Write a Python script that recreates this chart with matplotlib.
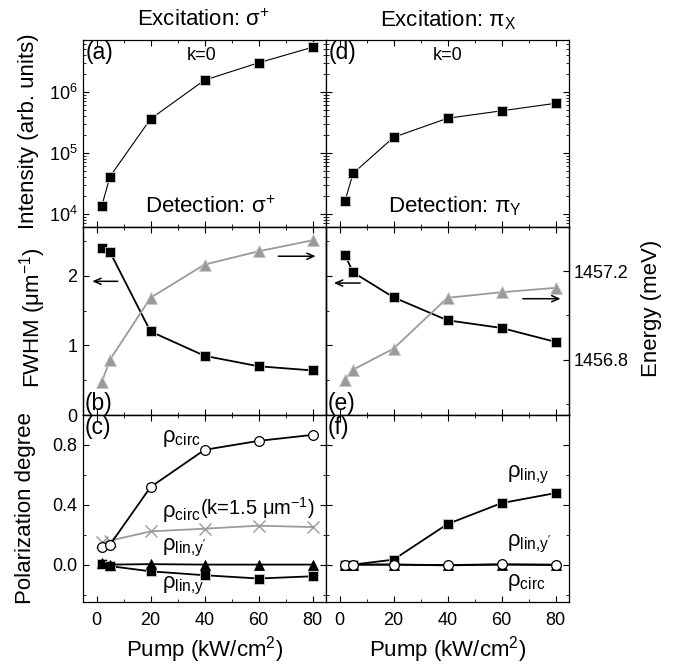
import numpy as np
import matplotlib
matplotlib.use('Agg')
import matplotlib.pyplot as plt
from matplotlib.ticker import MultipleLocator, LogLocator, NullFormatter, FormatStrFormatter

#===========================================================================
# data
#===========================================================================

pump = [2, 5, 20, 40, 60, 80]

# (a) and (d): intensity at k=0
intensityA = [1.37e4, 4.1e4, 3.6e5, 1.56e6, 3.0e6, 5.4e6]
intensityD = [1.6e4, 4.6e4, 1.8e5, 3.7e5, 4.9e5, 6.5e5]

# (b) and (e): FWHM (left axis) and energy (right axis)
fwhmB = [2.40, 2.34, 1.20, 0.85, 0.70, 0.64]
energyB = [1456.70, 1456.80, 1457.08, 1457.23, 1457.29, 1457.34]
fwhmE = [2.30, 2.05, 1.69, 1.36, 1.25, 1.05]
energyE = [1456.71, 1456.755, 1456.85, 1457.08, 1457.105, 1457.125]

# (c): sigma+ excitation polarization degrees
circC = [0.115, 0.133, 0.518, 0.767, 0.827, 0.867]
circKC = [0.149, 0.160, 0.222, 0.240, 0.260, 0.251]
linYpC = [0.010, 0.000, 0.003, 0.000, 0.000, 0.000]
linYC = [0.005, -0.010, -0.045, -0.071, -0.093, -0.078]

# (f): pi_x excitation polarization degrees
linYF = [0.000, 0.000, 0.033, 0.271, 0.411, 0.478]
linYpF = [0.000, 0.000, 0.000, -0.005, 0.000, -0.003]
circF = [0.000, 0.000, 0.000, -0.003, 0.002, 0.000]

#===========================================================================
# style
#===========================================================================

plt.rcParams['font.family'] = ['Liberation Sans', 'DejaVu Sans']
plt.rcParams['mathtext.fontset'] = 'custom'
plt.rcParams['mathtext.rm'] = 'Liberation Sans'
plt.rcParams['mathtext.it'] = 'Liberation Sans:italic'
plt.rcParams['mathtext.bf'] = 'Liberation Sans:bold'
plt.rcParams['mathtext.default'] = 'regular'
plt.rcParams['xtick.direction'] = 'in'
plt.rcParams['ytick.direction'] = 'in'
plt.rcParams['xtick.top'] = True
plt.rcParams['ytick.right'] = True
plt.rcParams['axes.linewidth'] = 0.9
plt.rcParams['xtick.major.size'] = 4
plt.rcParams['ytick.major.size'] = 4
plt.rcParams['xtick.minor.size'] = 2.2
plt.rcParams['ytick.minor.size'] = 2.2
plt.rcParams['xtick.labelsize'] = 13
plt.rcParams['ytick.labelsize'] = 13

W = 674.0
H = 664.0

def pxBox(left, top, right, bottom):
    return [left / W, 1 - bottom / H, (right - left) / W, (bottom - top) / H]

grey = '#9a9a9a'
sqStyle = dict(marker='s', ms=7.5, mfc='black', mec='#d0d0d0', mew=0.6, color='black')
triGrey = dict(marker='^', ms=8, mfc=grey, mec='#c8c8c8', mew=0.6, color=grey)

fig = plt.figure(figsize=(W / 100, H / 100), dpi=100)

xl, xm, xr = 83, 326, 569
yt, y1, y2, yb = 40, 227, 415, 602

axA = fig.add_axes(pxBox(xl, yt, xm, y1))
axD = fig.add_axes(pxBox(xm, yt, xr, y1))
axB = fig.add_axes(pxBox(xl, y1, xm, y2))
axE = fig.add_axes(pxBox(xm, y1, xr, y2))
axC = fig.add_axes(pxBox(xl, y2, xm, yb))
axF = fig.add_axes(pxBox(xm, y2, xr, yb))

for ax in [axA, axD, axB, axE, axC, axF]:
    ax.set_xlim(-5, 85)
    ax.xaxis.set_major_locator(MultipleLocator(20))
    ax.xaxis.set_minor_locator(MultipleLocator(10))
    ax.tick_params(axis='x', which='both', pad=7)
    ax.tick_params(axis='y', which='both', pad=4)
    ax.tick_params(which='both', top=True, right=True)

for ax in [axA, axD, axB, axE]:
    ax.tick_params(axis='x', labelbottom=False)
for ax in [axD, axE, axF]:
    ax.tick_params(axis='y', labelleft=False)

# top row: intensity

for ax, vals in [(axA, intensityA), (axD, intensityD)]:
    ax.set_yscale('log')
    ax.set_ylim(6.1e3, 7.1e6)
    ax.yaxis.set_major_locator(LogLocator(base=10, numticks=10))
    ax.yaxis.set_minor_locator(LogLocator(base=10, subs=np.arange(2, 10), numticks=10))
    ax.yaxis.set_minor_formatter(NullFormatter())
    ax.plot(pump, vals, lw=0.8, **sqStyle)
axD.tick_params(axis='y', which='both', labelleft=False)

letterSize = 16.5
axA.text(0.01, 0.995, '(a)', transform=axA.transAxes, fontsize=letterSize, va='top', ha='left')
axD.text(0.01, 0.995, '(d)', transform=axD.transAxes, fontsize=letterSize, va='top', ha='left')
axA.text(0.49, 0.895, 'k=0', transform=axA.transAxes, fontsize=13, ha='center', va='baseline')
axD.text(0.50, 0.895, 'k=0', transform=axD.transAxes, fontsize=13, ha='center', va='baseline')
axA.text(0.525, 0.077, r'Detection: $\sigma^{+}$', transform=axA.transAxes, fontsize=16,
         ha='center', va='baseline')
axD.text(0.53, 0.077, r'Detection: $\pi_{Y}$', transform=axD.transAxes, fontsize=16,
         ha='center', va='baseline')

# middle row: FWHM and energy

for ax, fw in [(axB, fwhmB), (axE, fwhmE)]:
    ax.set_ylim(0, 2.7)
    ax.yaxis.set_major_locator(MultipleLocator(1))
    ax.yaxis.set_minor_locator(MultipleLocator(0.5))
    ax.plot(pump, fw, lw=1.3, zorder=3, **sqStyle)

twinB = axB.twinx()
twinE = axE.twinx()
for tw, en in [(twinB, energyB), (twinE, energyE)]:
    tw.set_ylim(1456.55, 1457.40)
    tw.yaxis.set_major_locator(MultipleLocator(0.4))
    tw.yaxis.set_minor_locator(MultipleLocator(0.2))
    tw.tick_params(axis='y', which='both', direction='in', pad=3)
    tw.plot(pump, en, lw=1.3, zorder=2, **triGrey)
twinB.tick_params(axis='y', which='both', labelright=False, right=False)
twinE.yaxis.set_major_formatter(FormatStrFormatter('%.1f'))

arrowProps = dict(arrowstyle='->,head_length=0.5,head_width=0.22', lw=1.1, color='black')
axB.annotate('', xy=(-2.6, 1.92), xytext=(8.9, 1.92), arrowprops=arrowProps)
axB.annotate('', xy=(82.2, 2.28), xytext=(66.3, 2.28), arrowprops=arrowProps)
axE.annotate('', xy=(-3.1, 1.895), xytext=(8.7, 1.895), arrowprops=arrowProps)
axE.annotate('', xy=(82.9, 1.67), xytext=(66.9, 1.67), arrowprops=arrowProps)

axB.text(0.008, 0.0, '(b)', transform=axB.transAxes, fontsize=letterSize, va='bottom', ha='left')
axE.text(0.008, 0.0, '(e)', transform=axE.transAxes, fontsize=letterSize, va='bottom', ha='left')

# bottom row: polarization degree

for ax in [axC, axF]:
    ax.set_ylim(-0.25, 1.0)
    ax.yaxis.set_major_locator(MultipleLocator(0.4))
    ax.yaxis.set_minor_locator(MultipleLocator(0.2))
    ax.yaxis.set_major_formatter(FormatStrFormatter('%.1f'))
    ax.set_xlabel(r'Pump (kW/cm$^{2}$)', fontsize=16, labelpad=4)

circStyle = dict(marker='o', ms=7, mfc='white', mec='black', mew=0.9, color='black')
triBlack = dict(marker='^', ms=7.5, mfc='black', mec='black', mew=0.6, color='black')

axC.plot(pump, linYC, lw=1.3, zorder=3, **sqStyle)
axC.plot(pump, linYpC, lw=1.3, zorder=4, **triBlack)
axC.plot(pump, circKC, lw=1.3, zorder=2, marker='x', ms=9, mew=1.0, color=grey)
axC.plot(pump, circC, lw=1.3, zorder=5, **circStyle)

axF.plot(pump, linYF, lw=1.3, zorder=3, **sqStyle)
axF.plot(pump, linYpF, lw=1.3, zorder=4, **triBlack)
axF.plot(pump, circF, lw=1.3, zorder=5, **circStyle)

axC.text(0.008, 0.995, '(c)', transform=axC.transAxes, fontsize=letterSize, va='top', ha='left')
axF.text(0.008, 0.995, '(f)', transform=axF.transAxes, fontsize=letterSize, va='top', ha='left')

labelSize = 16
axC.text(24.3, 0.82, r'$\rho_{circ}$', fontsize=labelSize, va='baseline')
axC.text(24.3, 0.318, r'$\rho_{circ}$', fontsize=labelSize, va='baseline')
axC.text(38.5, 0.33, r'(k=1.5 $\mu$m$^{-1}$)', fontsize=14.5, va='baseline')
axC.text(24.3, 0.095, r"$\rho_{lin{,}y'}$", fontsize=labelSize, va='baseline')
axC.text(24.3, -0.16, r'$\rho_{lin{,}y}$', fontsize=labelSize, va='baseline')

axF.text(62, 0.585, r'$\rho_{lin{,}y}$', fontsize=labelSize, va='baseline')
axF.text(62, 0.122, r"$\rho_{lin{,}y'}$", fontsize=labelSize, va='baseline')
axF.text(62, -0.14, r'$\rho_{circ}$', fontsize=labelSize, va='baseline')

# titles and axis labels

fig.text(204 / W, 1 - 26 / H, r'Excitation: $\sigma^{+}$', fontsize=16, ha='center', va='baseline')
fig.text(448 / W, 1 - 26 / H, r'Excitation: $\pi_{X}$', fontsize=16, ha='center', va='baseline')

fig.text(29 / W, 1 - 131 / H, 'Intensity (arb. units)', fontsize=16, rotation=90,
         ha='center', va='center')
fig.text(33 / W, 1 - 318 / H, r'FWHM ($\mu$m$^{-1}$)', fontsize=16, rotation=90,
         ha='center', va='center')
fig.text(26 / W, 1 - 508 / H, 'Polarization degree', fontsize=16, rotation=90,
         ha='center', va='center')
fig.text(651 / W, 1 - 308 / H, 'Energy (meV)', fontsize=16, rotation=90,
         ha='center', va='center')

fig.savefig('out.png', dpi=100)
